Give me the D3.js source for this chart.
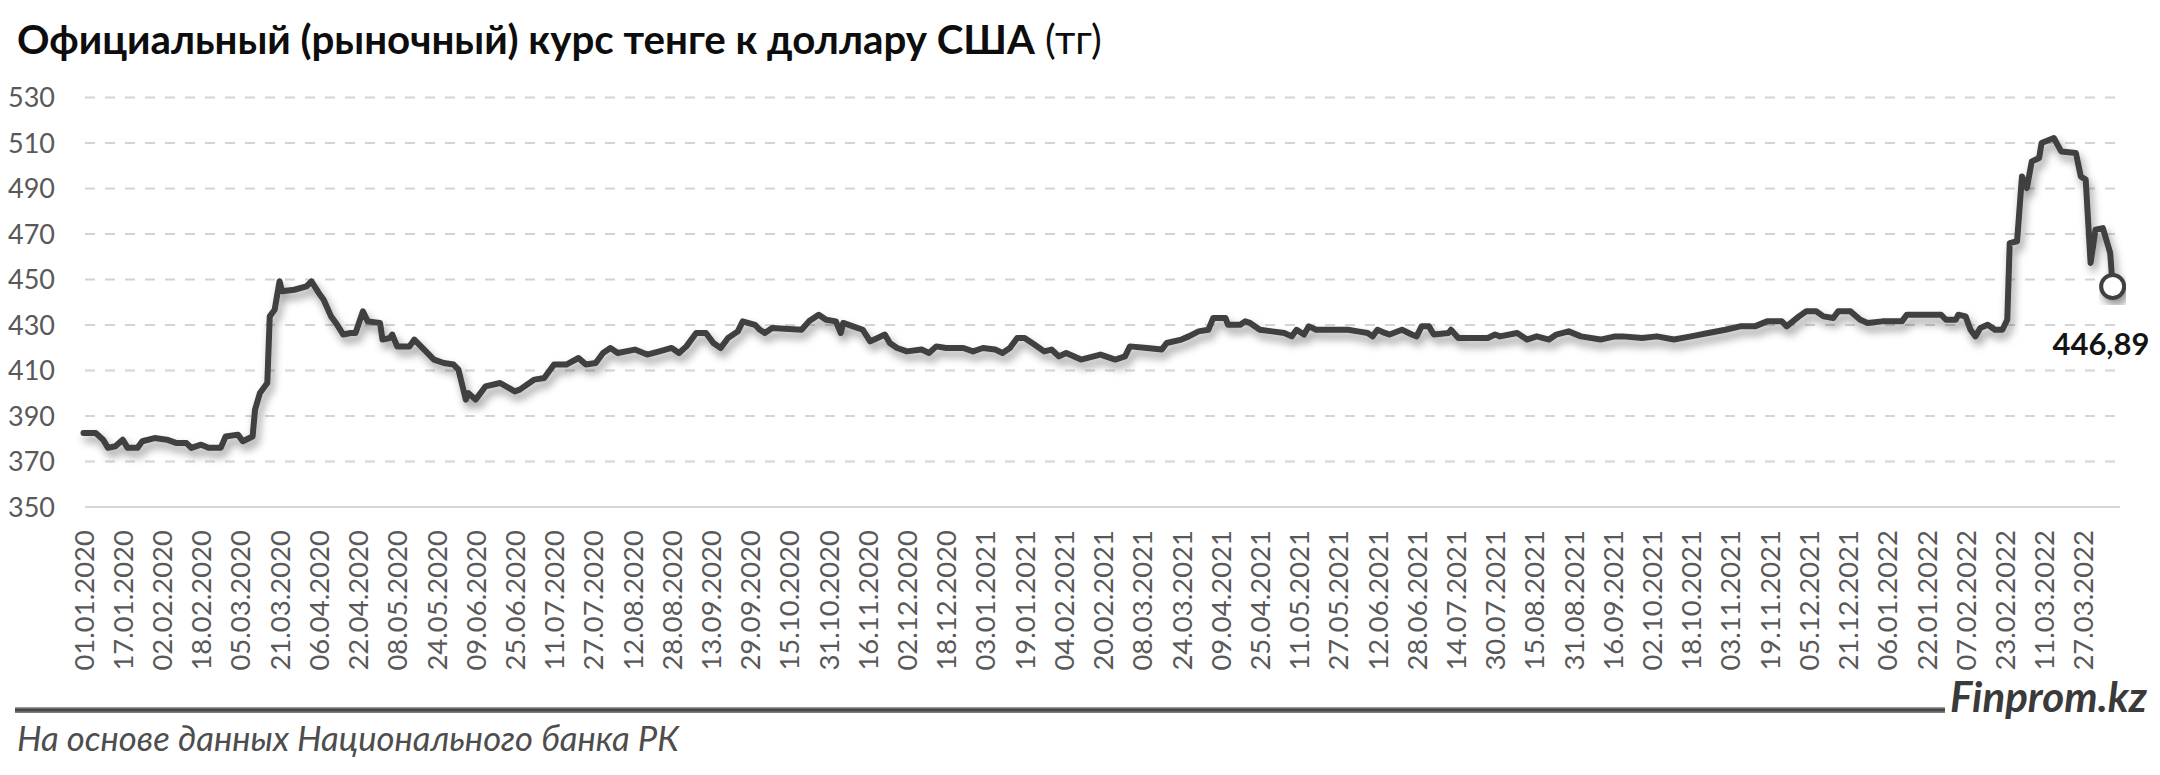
<!DOCTYPE html>
<html>
<head>
<meta charset="utf-8">
<script src="https://cdn.jsdelivr.net/npm/d3@7/dist/d3.min.js"></script>
<style>
  html, body { margin: 0; padding: 0; background: #ffffff; }
  svg { display: block; }
</style>
</head>
<body>
<svg id="chart" width="2160" height="775"></svg>
<script>
// ---------------- DATA ----------------
const titleBold = "Официальный (рыночный) курс тенге к доллару США";
const titleUnit = " (тг)";
const sourceText = "На основе данных Национального банка РК";
const brandText = "Finprom.kz";
const lastLabel = "446,89";

const yTicks = [350, 370, 390, 410, 430, 450, 470, 490, 510, 530];

const xTickLabels = [
  "01.01.2020","17.01.2020","02.02.2020","18.02.2020","05.03.2020","21.03.2020","06.04.2020","22.04.2020",
  "08.05.2020","24.05.2020","09.06.2020","25.06.2020","11.07.2020","27.07.2020","12.08.2020","28.08.2020",
  "13.09.2020","29.09.2020","15.10.2020","31.10.2020","16.11.2020","02.12.2020","18.12.2020","03.01.2021",
  "19.01.2021","04.02.2021","20.02.2021","08.03.2021","24.03.2021","09.04.2021","25.04.2021","11.05.2021",
  "27.05.2021","12.06.2021","28.06.2021","14.07.2021","30.07.2021","15.08.2021","31.08.2021","16.09.2021",
  "02.10.2021","18.10.2021","03.11.2021","19.11.2021","05.12.2021","21.12.2021","06.01.2022","22.01.2022",
  "07.02.2022","23.02.2022","11.03.2022","27.03.2022"
];

const axisStart = "01.01.2020";
const axisEnd = "11.04.2022";

const dates = [
  "01.01.2020","06.01.2020","09.01.2020","11.01.2020","14.01.2020","17.01.2020","19.01.2020","23.01.2020","25.01.2020","30.01.2020",
  "04.02.2020","08.02.2020","12.02.2020","14.02.2020","18.02.2020","21.02.2020","26.02.2020","28.02.2020",
  "04.03.2020","06.03.2020","10.03.2020","11.03.2020","13.03.2020","16.03.2020","17.03.2020","19.03.2020","21.03.2020","22.03.2020","27.03.2020",
  "01.04.2020","03.04.2020","06.04.2020","08.04.2020","11.04.2020","13.04.2020","16.04.2020","19.04.2020","21.04.2020","24.04.2020","26.04.2020",
  "01.05.2020","02.05.2020","05.05.2020","06.05.2020","08.05.2020","13.05.2020","15.05.2020","19.05.2020","23.05.2020","27.05.2020","31.05.2020",
  "02.06.2020","05.06.2020","06.06.2020","09.06.2020","13.06.2020","19.06.2020","25.06.2020","27.06.2020",
  "03.07.2020","07.07.2020","11.07.2020","16.07.2020","21.07.2020","24.07.2020","28.07.2020","31.07.2020",
  "03.08.2020","06.08.2020","13.08.2020","18.08.2020","23.08.2020","28.08.2020","31.08.2020",
  "03.09.2020","07.09.2020","11.09.2020","14.09.2020","17.09.2020","20.09.2020","24.09.2020","26.09.2020",
  "01.10.2020","03.10.2020","05.10.2020","08.10.2020","20.10.2020","23.10.2020","27.10.2020","30.10.2020",
  "03.11.2020","05.11.2020","06.11.2020","10.11.2020","14.11.2020","17.11.2020","20.11.2020","23.11.2020","25.11.2020","28.11.2020",
  "02.12.2020","08.12.2020","11.12.2020","14.12.2020","18.12.2020","25.12.2020","29.12.2020",
  "02.01.2021","07.01.2021","10.01.2021","13.01.2021","16.01.2021","19.01.2021","23.01.2021","27.01.2021","30.01.2021",
  "02.02.2021","05.02.2021","11.02.2021","19.02.2021","25.02.2021",
  "01.03.2021","03.03.2021","10.03.2021","16.03.2021","18.03.2021","24.03.2021","27.03.2021","31.03.2021",
  "04.04.2021","06.04.2021","11.04.2021","12.04.2021","17.04.2021","19.04.2021","21.04.2021","25.04.2021","30.04.2021",
  "05.05.2021","08.05.2021","10.05.2021","13.05.2021","15.05.2021","18.05.2021","25.05.2021","31.05.2021",
  "04.06.2021","08.06.2021","10.06.2021","12.06.2021","15.06.2021","17.06.2021","22.06.2021","26.06.2021","28.06.2021","30.06.2021",
  "03.07.2021","05.07.2021","11.07.2021","12.07.2021","15.07.2021","21.07.2021","27.07.2021","30.07.2021",
  "01.08.2021","08.08.2021","12.08.2021","16.08.2021","21.08.2021","24.08.2021","29.08.2021",
  "03.09.2021","11.09.2021","17.09.2021","20.09.2021","28.09.2021",
  "04.10.2021","11.10.2021","18.10.2021","25.10.2021",
  "01.11.2021","07.11.2021","13.11.2021","18.11.2021","24.11.2021","26.11.2021",
  "01.12.2021","04.12.2021","08.12.2021","11.12.2021","15.12.2021","17.12.2021","22.12.2021","26.12.2021","29.12.2021",
  "04.01.2022","12.01.2022","14.01.2022","21.01.2022","28.01.2022","30.01.2022",
  "03.02.2022","04.02.2022","07.02.2022","09.02.2022","11.02.2022","13.02.2022","16.02.2022","19.02.2022","22.02.2022","24.02.2022","25.02.2022","28.02.2022",
  "02.03.2022","04.03.2022","06.03.2022","09.03.2022","10.03.2022","15.03.2022","18.03.2022","24.03.2022","26.03.2022","28.03.2022","30.03.2022",
  "01.04.2022","04.04.2022","07.04.2022","08.04.2022"
];

const rates = [
  382.5, 382.5, 379.6, 376.0, 376.7, 379.6, 376.0, 376.0, 378.9, 380.3,
  379.6, 378.1, 378.1, 376.0, 377.4, 376.0, 376.0, 381.0,
  381.8, 378.9, 381.0, 392.8, 400.1, 404.5, 433.8, 436.7, 449.2, 444.8, 445.5,
  447.0, 449.2, 444.1, 441.1, 433.8, 430.9, 425.8, 426.5, 426.5, 436.0, 431.6,
  430.9, 423.6, 424.3, 425.8, 420.6, 420.6, 423.6, 419.2, 414.8, 413.3, 412.6,
  410.4, 397.2, 400.1, 397.2, 403.0, 404.5, 400.8, 401.6,
  406.0, 406.7, 412.6, 412.6, 415.5, 412.6, 413.3, 417.7,
  419.9, 417.7, 419.2, 417.0, 418.4, 419.9, 417.7,
  420.6, 426.5, 426.5, 422.1, 419.9, 424.3, 427.2, 431.6,
  430.1, 427.9, 426.5, 428.7, 427.9, 431.6, 434.5, 432.3,
  431.6, 426.5, 430.9, 429.4, 427.9, 422.8, 424.3, 425.8, 422.1, 419.9,
  418.4, 419.2, 417.7, 420.6, 419.9, 419.9, 418.4,
  419.9, 419.2, 417.7, 419.9, 424.3, 424.3, 421.4, 418.4, 419.2,
  416.2, 417.7, 414.8, 417.0, 414.8,
  416.2, 420.6, 419.9, 419.2, 422.1, 423.6, 425.0, 427.2,
  427.9, 433.1, 433.1, 430.1, 430.1, 431.6, 430.9, 427.9, 427.2,
  426.5, 425.0, 427.9, 425.8, 429.4, 427.9, 427.9, 427.9,
  427.2, 426.5, 425.0, 427.9, 426.5, 425.8, 427.9, 425.8, 425.0, 429.4,
  429.4, 425.8, 426.5, 427.9, 424.3, 424.3, 424.3, 425.8,
  425.0, 426.5, 423.6, 425.0, 423.6, 425.8, 427.2,
  425.0, 423.6, 425.0, 425.0, 424.3,
  425.0, 423.6, 425.0, 426.5,
  427.9, 429.4, 429.4, 431.6, 431.6, 429.4,
  433.8, 436.0, 436.0, 433.8, 433.1, 436.0, 436.0, 432.3, 430.9,
  431.6, 431.6, 434.5, 434.5, 434.5, 432.3,
  432.3, 434.5, 433.8, 427.9, 425.0, 428.7, 430.1, 427.9, 427.9, 432.3, 466.0, 466.8,
  495.3, 490.2, 501.9, 503.4, 510.0, 512.2, 506.3, 505.6, 495.3, 493.9, 457.3,
  471.9, 472.6, 461.7, 446.89
];

// ---------------- CHART ----------------
const parse = d3.utcParse("%d.%m.%Y");
const series = dates.map((d, i) => ({ date: parse(d), value: rates[i] }));

const svg = d3.select("#chart");
const W = 2160, H = 775;
const plot = { left: 83.5, right: 2120, top: 97.5, bottom: 507 };

const x = d3.scaleUtc().domain([parse(axisStart), parse(axisEnd)]).range([plot.left, plot.right]);
const y = d3.scaleLinear().domain([350, 530]).range([plot.bottom, plot.top]);

svg.append("rect").attr("width", W).attr("height", H).attr("fill", "#ffffff");

const defs = svg.append("defs");
const f = defs.append("filter").attr("id", "shadow")
  .attr("x", "-5%").attr("y", "-30%").attr("width", "110%").attr("height", "160%");
f.append("feDropShadow").attr("dx", 3).attr("dy", 6).attr("stdDeviation", 4.5)
  .attr("flood-color", "#000").attr("flood-opacity", 0.4);

const g1 = defs.append("linearGradient").attr("id", "rule").attr("x1", 0).attr("y1", 0).attr("x2", 0).attr("y2", 1);
g1.append("stop").attr("offset", "0%").attr("stop-color", "#b0b0b0");
g1.append("stop").attr("offset", "45%").attr("stop-color", "#3a3a3a");
g1.append("stop").attr("offset", "100%").attr("stop-color", "#8a8a8a");

// Title
const title = svg.append("text")
  .attr("x", 17).attr("y", 54)
  .attr("font-family", "Lato, 'Noto Sans', sans-serif")
  .attr("font-size", 36).attr("fill", "#0d0d0d");
title.append("tspan").attr("font-weight", 700).text(titleBold);
title.append("tspan").attr("font-weight", 400).text(titleUnit);

function fitWidth(sel, target) {
  const node = sel.node();
  const w = node.getComputedTextLength();
  const fs = parseFloat(sel.attr("font-size"));
  if (w > 0) sel.attr("font-size", fs * target / w);
}
fitWidth(title, 1085);

// Y axis labels
const yAxis = d3.axisLeft(y).tickValues(yTicks).tickSize(0).tickPadding(0).tickFormat(d3.format("d"));
const gy = svg.append("g").attr("transform", `translate(55,0)`).call(yAxis);
gy.select(".domain").remove();
gy.selectAll("text")
  .attr("font-family", "Lato, 'Noto Sans', sans-serif")
  .attr("font-size", 27).attr("fill", "#595959")
  .attr("text-anchor", "end").attr("dy", "0.35em").attr("x", 0);

// Grid lines (dashed)
svg.append("g").selectAll("line")
  .data(yTicks.filter(v => v !== 350))
  .join("line")
  .attr("x1", plot.left + 1.5).attr("x2", plot.right)
  .attr("y1", d => y(d)).attr("y2", d => y(d))
  .attr("stroke", "#d4d4d4").attr("stroke-width", 2)
  .attr("stroke-dasharray", "10,10");

// baseline
svg.append("line")
  .attr("x1", plot.left + 1.5).attr("x2", plot.right)
  .attr("y1", y(350)).attr("y2", y(350))
  .attr("stroke", "#d6d6d6").attr("stroke-width", 2);

// X tick labels
const xTicks = xTickLabels.map(s => parse(s));
const xAxis = d3.axisBottom(x).tickValues(xTicks).tickSize(0).tickPadding(0)
  .tickFormat((d, i) => xTickLabels[i]);
const gx = svg.append("g").attr("transform", `translate(0,530)`).call(xAxis);
gx.select(".domain").remove();
gx.selectAll(".tick text")
  .attr("font-family", "Lato, 'Noto Sans', sans-serif")
  .attr("font-size", 27.5).attr("fill", "#595959")
  .attr("text-anchor", "end")
  .attr("transform", "rotate(-90)")
  .attr("x", 0).attr("y", 0).attr("dy", "0.35em");

// Line
const line = d3.line().x(d => x(d.date)).y(d => y(d.value)).curve(d3.curveLinear);
svg.append("path")
  .datum(series)
  .attr("d", line)
  .attr("fill", "none")
  .attr("stroke", "#3f3f3f")
  .attr("stroke-width", 6)
  .attr("stroke-linejoin", "round")
  .attr("stroke-linecap", "round")
  .attr("filter", "url(#shadow)");

// Last point marker
const last = series[series.length - 1];
svg.append("circle")
  .attr("cx", x(last.date)).attr("cy", y(last.value)).attr("r", 11.5)
  .attr("fill", "#ffffff").attr("stroke", "#3f3f3f").attr("stroke-width", 4)
  .attr("filter", "url(#shadow)");

const lbl = svg.append("text")
  .attr("x", x(last.date) - 12).attr("y", y(last.value) + 68)
  .attr("font-family", "Lato, 'Noto Sans', sans-serif")
  .attr("font-size", 31).attr("font-weight", 700).attr("fill", "#141414")
  .text(lastLabel);
fitWidth(lbl, 97);
const lw = lbl.node().getComputedTextLength();
lbl.attr("x", 2101 - lw / 2);

// Footer rule
svg.append("rect")
  .attr("x", 15).attr("y", 707).attr("width", 1930).attr("height", 6)
  .attr("fill", "url(#rule)");

const brand = svg.append("text")
  .attr("x", 1950).attr("y", 712)
  .attr("font-family", "Lato, 'Noto Sans', sans-serif")
  .attr("font-style", "italic").attr("font-weight", 700)
  .attr("font-size", 32).attr("fill", "#3a3a3a")
  .text(brandText);
fitWidth(brand, 197);

const src = svg.append("text")
  .attr("x", 17).attr("y", 751)
  .attr("font-family", "Lato, 'Noto Sans', sans-serif")
  .attr("font-style", "italic")
  .attr("font-size", 27).attr("fill", "#4d4d4d")
  .text(sourceText);
fitWidth(src, 662);
</script>
</body>
</html>
